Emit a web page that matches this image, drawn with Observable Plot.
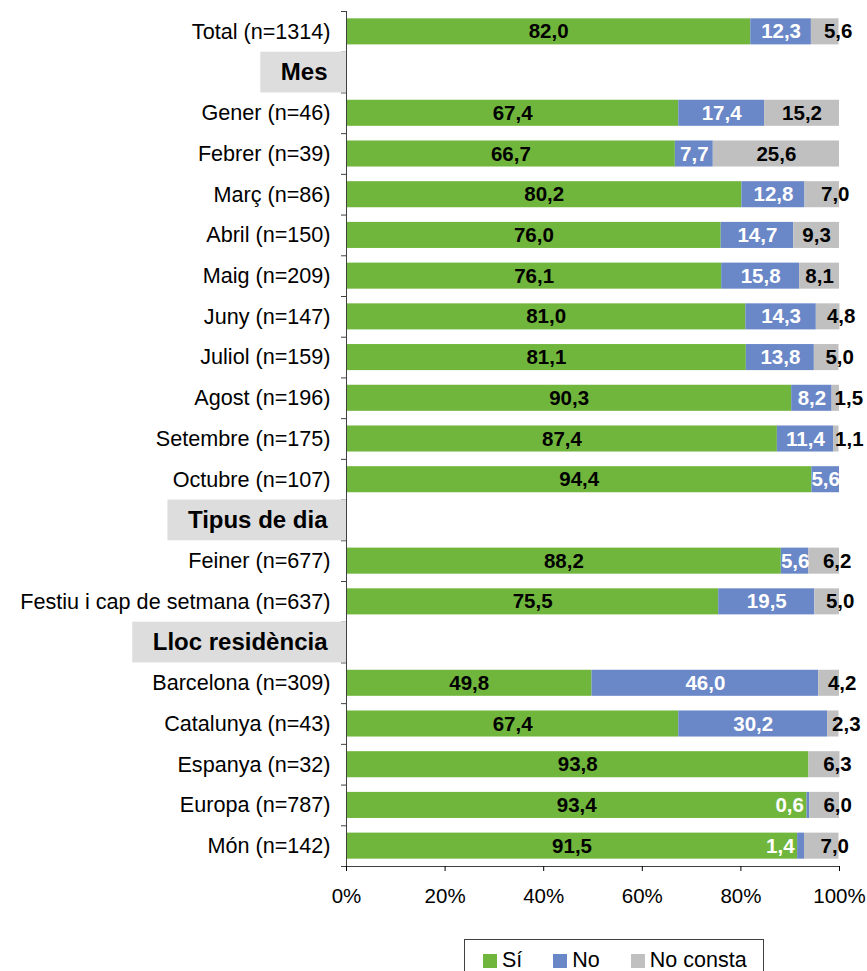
<!DOCTYPE html>
<html><head><meta charset="utf-8">
<script src="https://cdn.jsdelivr.net/npm/d3@7"></script>
<script src="https://cdn.jsdelivr.net/npm/@observablehq/plot@0.6"></script>
<style>
body{margin:0;background:#fff;font-family:"Liberation Sans",Arial,sans-serif;}
#wrap{position:relative;width:867px;height:971px;overflow:hidden;}
#legend{position:absolute;left:464px;top:939px;width:300px;height:44px;border:1px solid #404040;box-sizing:border-box;display:flex;align-items:center;padding-left:18px;font-size:21.5px;line-height:1;color:#000;}
#legend .it{display:flex;align-items:center;}
#legend .it + .it{margin-left:31px;}
#legend .sw{width:14px;height:14px;margin-right:5px;display:inline-block;}
</style>
</head><body>
<div id="wrap"><div id="chart"></div><div id="legend"></div></div>
<script>
const categories = ["Total (n=1314)", "Mes", "Gener (n=46)", "Febrer (n=39)", "Març (n=86)", "Abril (n=150)", "Maig (n=209)", "Juny (n=147)", "Juliol (n=159)", "Agost (n=196)", "Setembre (n=175)", "Octubre (n=107)", "Tipus de dia", "Feiner (n=677)", "Festiu i cap de setmana (n=637)", "Lloc residència", "Barcelona (n=309)", "Catalunya (n=43)", "Espanya (n=32)", "Europa (n=787)", "Món (n=142)"];
const headers = ["Mes", "Tipus de dia", "Lloc residència"];
const series = ["Sí", "No", "No consta"];
const colors = ["#70b63c", "#6a87c8", "#c0c0c0"];
const si =       [82.0, null, 67.4, 66.7, 80.2, 76.0, 76.1, 81.0, 81.1, 90.3, 87.4, 94.4, null, 88.2, 75.5, null, 49.8, 67.4, 93.8, 93.4, 91.5];
const no =       [12.3, null, 17.4,  7.7, 12.8, 14.7, 15.8, 14.3, 13.8,  8.2, 11.4,  5.6, null,  5.6, 19.5, null, 46.0, 30.2,  0.0,  0.6,  1.4];
const noConsta = [ 5.6, null, 15.2, 25.6,  7.0,  9.3,  8.1,  4.8,  5.0,  1.5,  1.1,  0.0, null,  6.2,  5.0, null,  4.2,  2.3,  6.3,  6.0,  7.0];
const xTicks = [0, 20, 40, 60, 80, 100];

const rows = [];
categories.forEach((c, i) => {
  if (headers.includes(c)) return;
  let start = 0;
  [si[i], no[i], noConsta[i]].forEach((v, k) => {
    rows.push({cat: c, serie: series[k], value: v, x1: start, x2: start + v, mid: start + v / 2});
    start += v;
  });
});
const fmt = v => v.toFixed(1).replace(".", ",");
const pick = (s, f) => rows.filter(r => r.serie === s && r.value > 0 && f(r.value));

const W = 867, H = 930, mT = 11, mB = 64, mL = 346, mR = 28;
const n = categories.length, step = (H - mT - mB) / n, pad = 0.36;
const ctx = document.createElement("canvas").getContext("2d");
ctx.font = 'bold 24px "Liberation Sans", Arial, sans-serif';
const tw = s => ctx.measureText(s).width;
const FONT = '"Liberation Sans", Arial, sans-serif';
const lab = {text: d => fmt(d.value), y: "cat", fontSize: 20.5, fontWeight: "bold", fontFamily: FONT};

const chart = Plot.plot({
  width: W, height: H, marginTop: mT, marginBottom: mB, marginLeft: mL, marginRight: mR,
  style: {fontFamily: FONT, fontSize: "21px", color: "#000", background: "#fff", overflow: "visible"},
  x: {domain: [0, 100]},
  y: {domain: categories, paddingInner: pad, paddingOuter: pad / 2, round: false, axis: null},
  color: {domain: series, range: colors},
  marks: [
    Plot.barX(rows, {y: "cat", x1: "x1", x2: "x2", fill: "serie"}),
    Plot.ruleY(categories, {y: d => d, x1: 0, x2: 0, insetLeft: -5, dy: -step / 2, stroke: "#404040"}),
    Plot.ruleY([categories[n - 1]], {y: d => d, x1: 0, x2: 100, insetLeft: -5, dy: step / 2, stroke: "#404040"}),
    ...headers.map(h => Plot.barX([h], {y: d => d, x1: 0, x2: 0, insetLeft: -(19 + tw(h) + 20), insetTop: -step * pad / 2, insetBottom: -step * pad / 2, fill: "#dddddd"})),
    Plot.ruleX([0], {stroke: "#404040"}),
    Plot.text(categories.filter(c => !headers.includes(c)), {y: d => d, frameAnchor: "left", textAnchor: "end", dx: -16, fontSize: 21.6, fill: "#000"}),
    Plot.text(headers, {y: d => d, frameAnchor: "left", textAnchor: "end", dx: -19, fontSize: 24, fontWeight: "bold", fill: "#000"}),
    Plot.axisX({ticks: xTicks, tickFormat: d => d + "%", tickSize: 5, tickPadding: 17, fontSize: 20.5}),
    Plot.text(pick("Sí", v => true), {...lab, x: "mid", fill: "#000"}),
    Plot.text(pick("No", v => v >= 3), {...lab, x: "mid", fill: "#fff"}),
    Plot.text(pick("No", v => v < 3), {...lab, x: "x1", textAnchor: "end", dx: -3, fill: "#fff"}),
    Plot.text(pick("No consta", v => v >= 8), {...lab, x: "mid", fill: "#000"}),
    Plot.text(pick("No consta", v => v < 8), {...lab, x: "mid", dx: 13, fill: "#000"})
  ]
});
document.getElementById("chart").append(chart);

const leg = document.getElementById("legend");
series.forEach((s, i) => {
  const it = document.createElement("span");
  it.className = "it";
  it.innerHTML = `<span class="sw" style="background:${colors[i]}"></span><span>${s}</span>`;
  leg.append(it);
});
</script>
</body></html>
